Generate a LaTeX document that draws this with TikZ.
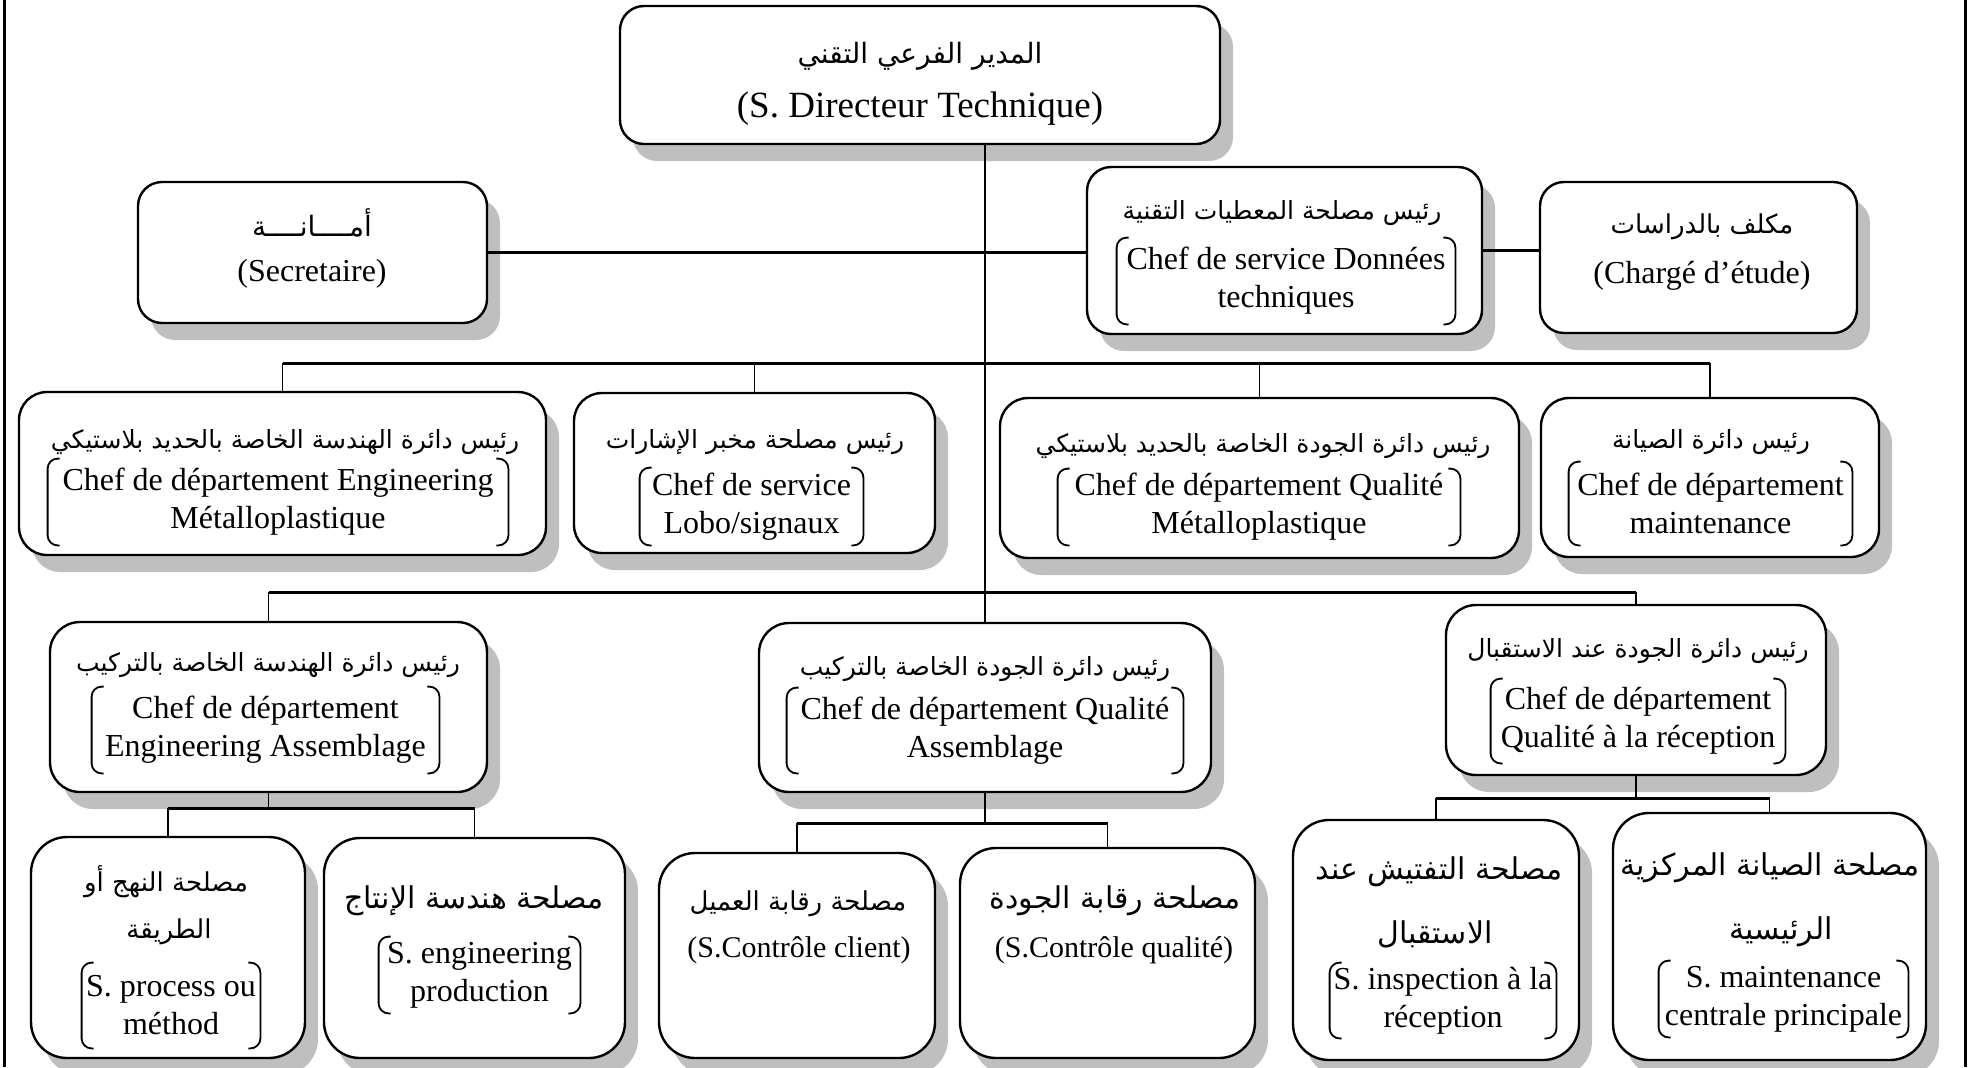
\documentclass[tikz,border=0pt]{standalone}
\usepackage{fontspec}
\setmainfont{Liberation Serif}
\newfontfamily\arabicfont[Script=Arabic]{DejaVu Sans}
\TeXXeTstate=1
\usetikzlibrary{shadows}

\begin{document}
\begin{tikzpicture}[x = 0.5pt, y = -0.5pt,
        box/.style = {draw, line width = 1.2pt, fill = white, rounded corners = #1,
            drop shadow = {shadow xshift = 6.5pt, shadow yshift = -8.5pt, fill = black!25, opacity = 1}},
        box/.default = 12pt,
        ar/.style = {inner sep = 0pt, font = \arabicfont\fontsize{#1}{#1}\selectfont},
        ar/.default = 12.5,
        fr/.style = {inner sep = 0pt, align = center, font = \fontsize{#1}{19}\selectfont},
        fr/.default = 16,
        brk/.style = {line width = 0.9pt, rounded corners = 5pt},
        bus/.style = {line width = 1.5pt},
        link/.style = {line width = 0.7pt}]
    \useasboundingbox (0,0) rectangle (1968,1067);
    \draw[line width = 1.5pt] (4,0) -- (4,1067) (1965,0) -- (1965,1067);

    \node[box, minimum width = 300pt, minimum height = 69pt] (dir) at (920,75) {};
    \node[box, minimum width = 174.5pt, minimum height = 70.5pt] (sec) at (312.5,252.5) {};
    \node[box, minimum width = 197.5pt, minimum height = 83.5pt] (don) at (1284.5,250.5) {};
    \node[box, minimum width = 158.5pt, minimum height = 75.5pt] (chg) at (1698.5,257.5) {};
    \begin{scope}[every node/.append style = {box = 14pt}]
        \node[minimum width = 263.5pt, minimum height = 81.5pt] (engm) at (282.5,473.5) {};
        \node[minimum width = 180.5pt, minimum height = 80pt] (lobo) at (754.5,473) {};
        \node[minimum width = 259.5pt, minimum height = 80pt] (qmet) at (1259.5,478) {};
        \node[minimum width = 169pt, minimum height = 79.5pt] (maint) at (1710,477.5) {};
    \end{scope}
    \begin{scope}[every node/.append style = {box = 15pt}]
        \node[minimum width = 218.5pt, minimum height = 85pt] (enga) at (268.5,707) {};
        \node[minimum width = 226pt, minimum height = 84.5pt] (qass) at (985,707.5) {};
        \node[minimum width = 190pt, minimum height = 85pt] (rec) at (1636,690) {};
    \end{scope}
    \begin{scope}[every node/.append style = {box = 18pt}]
        \node[minimum width = 137pt, minimum height = 110.5pt] (proc) at (168,947.5) {};
        \node[minimum width = 150.5pt, minimum height = 110pt] (eprod) at (474.5,948) {};
        \node[minimum width = 138pt, minimum height = 102.5pt] (cli) at (797,955.5) {};
        \node[minimum width = 147.5pt, minimum height = 105pt] (cq) at (1107.5,953) {};
        \node[minimum width = 143pt, minimum height = 120pt] (insp) at (1436,940) {};
        \node[minimum width = 156.5pt, minimum height = 123.5pt] (mcent) at (1769.5,936.5) {};
    \end{scope}

    \draw[link] (dir.south -| qass.north) -- (qass.north);
    \draw[bus] (sec.east) -- (sec.east -| don.west);
    \draw[bus] (don.east) -- (don.east -| chg.west);
    \coordinate (bus2) at (0,363);
    \draw[bus] (engm.north |- bus2) -- (maint.north |- bus2);
    \foreach \n in {engm, lobo, qmet, maint}
        \draw[link] (\n.north |- bus2) -- (\n.north);
    \coordinate (bus3) at (0,592);
    \draw[bus] (enga.north |- bus3) -- (rec.north |- bus3);
    \foreach \n in {enga, rec}
        \draw[link] (\n.north |- bus3) -- (\n.north);
    \coordinate (busa) at (0,808);
    \draw[link] (enga.south) -- (enga.south |- busa);
    \draw[bus] (proc.north |- busa) -- (eprod.north |- busa);
    \foreach \n in {proc, eprod}
        \draw[link] (\n.north |- busa) -- (\n.north);
    \coordinate (busb) at (0,823);
    \draw[link] (qass.south) -- (qass.south |- busb);
    \draw[bus] (cli.north |- busb) -- (cq.north |- busb);
    \foreach \n in {cli, cq}
        \draw[link] (\n.north |- busb) -- (\n.north);
    \coordinate (busc) at (0,798);
    \draw[link] (rec.south) -- (rec.south |- busc);
    \draw[bus] (insp.north |- busc) -- (mcent.north |- busc);
    \foreach \n in {insp, mcent}
        \draw[link] (\n.north |- busc) -- (\n.north);

    \node[ar = 14] (dirA) at (920,56) {\beginR المدير الفرعي التقني\endR};
    \node[fr = 18.5] (dirF) at (920,109) {(S. Directeur Technique)};
    \node[ar = 14] (secA) at (312,223) {\beginR أمــــانــــة\endR};
    \node[fr] (secF) at (312,274) {(Secretaire)};
    \node[ar] (donA) at (1282,213) {\beginR رئيس مصلحة المعطيات التقنية\endR};
    \node[fr, minimum width = 169pt, minimum height = 43pt] (donF) at (1286,281) {Chef de service Données\\techniques};
    \node[ar = 13] (chgA) at (1702,227) {\beginR مكلف بالدراسات\endR};
    \node[fr] (chgF) at (1702,276) {(Chargé d’étude)};

    \node[ar] (engmA) at (285,442) {\beginR رئيس دائرة الهندسة الخاصة بالحديد بلاستيكي\endR};
    \node[fr, minimum width = 230pt, minimum height = 43pt] (engmF) at (278,502) {Chef de département Engineering\\Métalloplastique};
    \node[ar] (loboA) at (755,442) {\beginR رئيس مصلحة مخبر الإشارات\endR};
    \node[fr, minimum width = 111.5pt, minimum height = 38.5pt] (loboF) at (751.5,506.5) {Chef de service\\Lobo/signaux};
    \node[ar] (qmetA) at (1263,446) {\beginR رئيس دائرة الجودة الخاصة بالحديد بلاستيكي\endR};
    \node[fr, minimum width = 201pt, minimum height = 38pt] (qmetF) at (1259,507) {Chef de département Qualité\\Métalloplastique};
    \node[ar] (maintA) at (1711,442) {\beginR رئيس دائرة الصيانة\endR};
    \node[fr, minimum width = 141.5pt, minimum height = 41.5pt] (maintF) at (1710.5,503.5) {Chef de département\\maintenance};

    \node[ar] (engaA) at (268,665) {\beginR رئيس دائرة الهندسة الخاصة بالتركيب\endR};
    \node[fr, minimum width = 173.5pt, minimum height = 43pt] (engaF) at (265.5,730) {Chef de département\\Engineering Assemblage};
    \node[ar] (qassA) at (985,669) {\beginR رئيس دائرة الجودة الخاصة بالتركيب\endR};
    \node[fr, minimum width = 198pt, minimum height = 42.5pt] (qassF) at (985,730.5) {Chef de département Qualité\\Assemblage};
    \node[ar] (recA) at (1638,651) {\beginR رئيس دائرة الجودة عند الاستقبال\endR};
    \node[fr, minimum width = 147pt, minimum height = 42pt] (recF) at (1638,721) {Chef de département\\Qualité à la réception};

    \node[ar = 13] (procA) at (166,882) {\beginR مصلحة النهج أو\endR};
    \node[ar = 13] (procB) at (169,932) {\beginR الطريقة\endR};
    \node[fr, minimum width = 89pt, minimum height = 42.5pt] (procF) at (171,1005.5) {S. process ou\\méthod};
    \node[ar = 15] (eprodA) at (474,901) {\beginR مصلحة هندسة الإنتاج\endR};
    \node[fr, minimum width = 100.5pt, minimum height = 38pt] (eprodF) at (479.5,975) {S. engineering\\production};
    \node[ar = 13] (cliA) at (798,904) {\beginR مصلحة رقابة العميل\endR};
    \node[fr = 15] (cliF) at (799,950) {(S.Contrôle client)};
    \node[ar = 15] (cqA) at (1115,901) {\beginR مصلحة رقابة الجودة\endR};
    \node[fr = 15] (cqF) at (1114,950) {(S.Contrôle qualité)};
    \node[ar = 15] (inspA) at (1439,872) {\beginR مصلحة التفتيش عند\endR};
    \node[ar = 15] (inspB) at (1435,934) {\beginR الاستقبال\endR};
    \node[fr, minimum width = 113pt, minimum height = 37.5pt] (inspF) at (1443,1000.5) {S. inspection à la\\réception};
    \node[ar = 15] (mcentA) at (1770,868) {\beginR مصلحة الصيانة المركزية\endR};
    \node[ar = 15] (mcentB) at (1781,932) {\beginR الرئيسية\endR};
    \node[fr, minimum width = 124.5pt, minimum height = 38pt] (mcentF) at (1783.5,999) {S. maintenance\\centrale principale};

    \foreach \n in {donF, engmF, loboF, qmetF, maintF, engaF, qassF, recF, procF, eprodF, inspF, mcentF}
        \draw[brk] ([xshift = 6pt]\n.north west) -- (\n.north west) -- (\n.south west) -- ([xshift = 6pt]\n.south west)
            ([xshift = -6pt]\n.north east) -- (\n.north east) -- (\n.south east) -- ([xshift = -6pt]\n.south east);
\end{tikzpicture}
\end{document}
